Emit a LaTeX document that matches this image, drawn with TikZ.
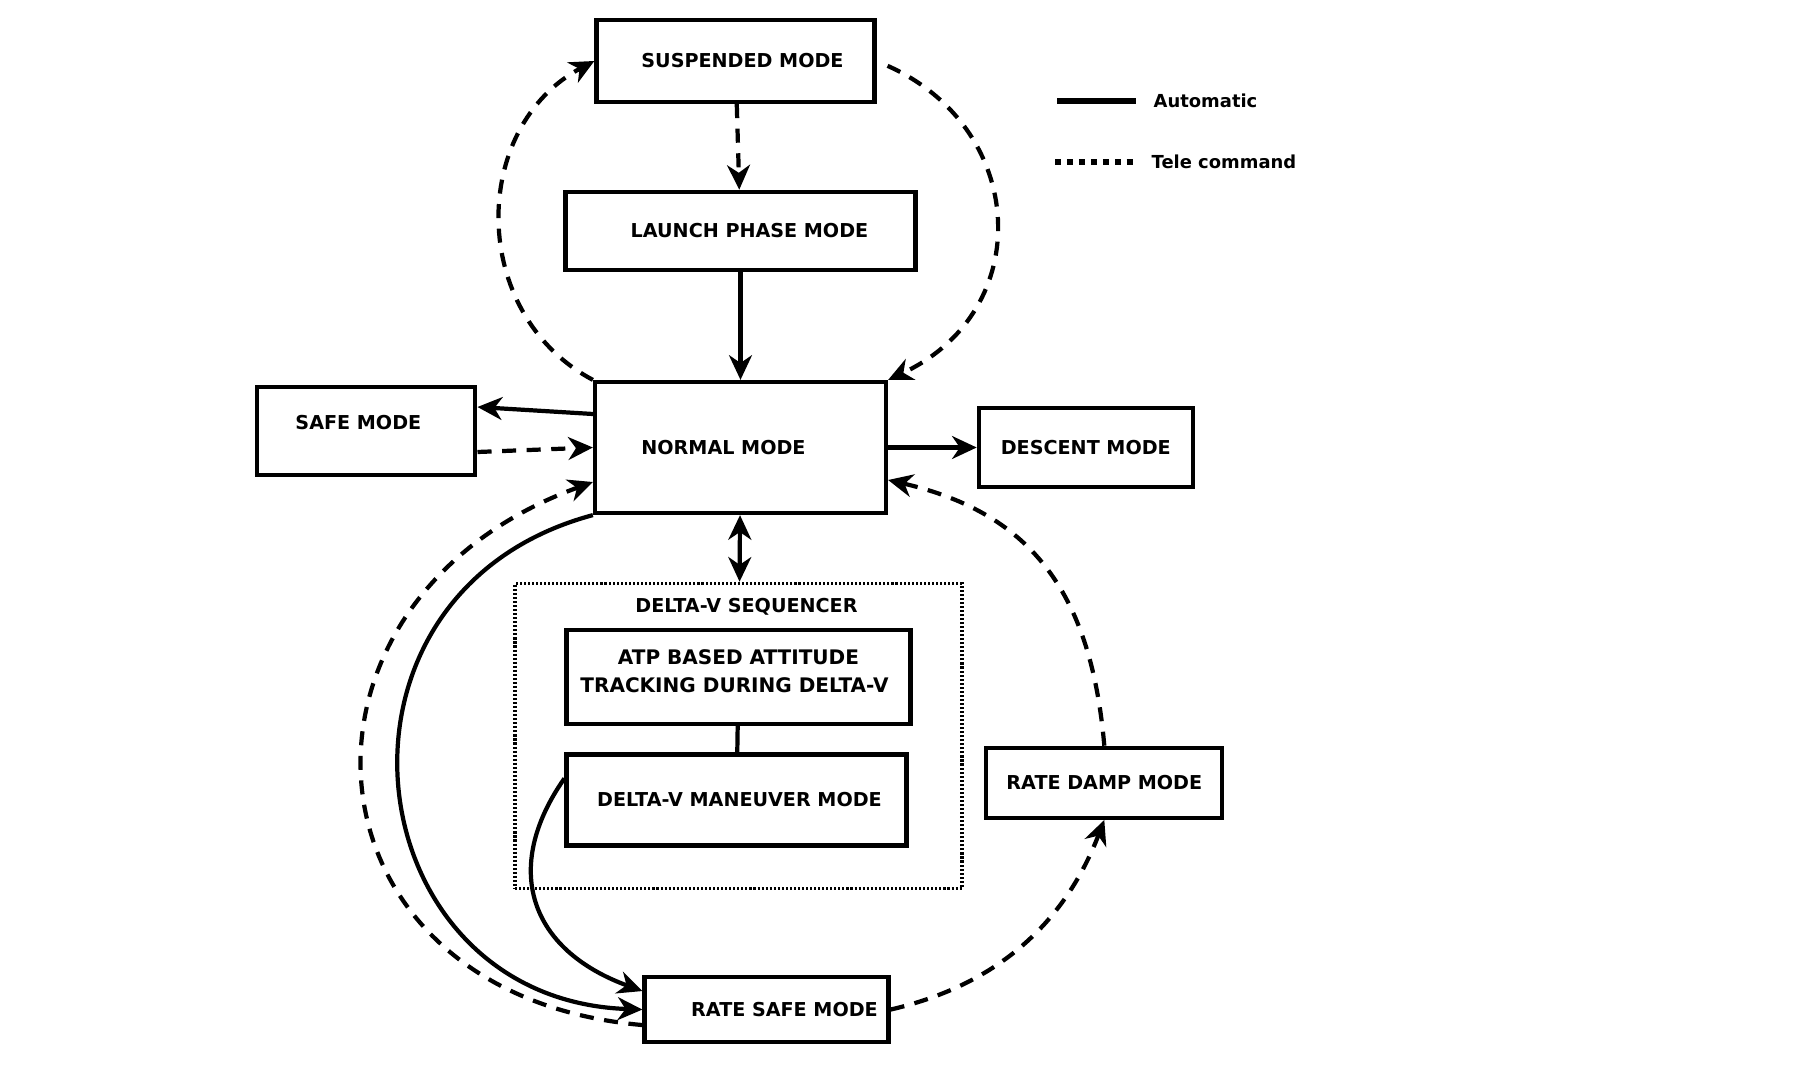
\documentclass[tikz,border=0pt]{standalone}
\usepackage{fontspec}
\setmainfont{DejaVu Sans}
\usetikzlibrary{positioning, arrows.meta}

\newcommand{\modefont}{\fontsize{5.45pt}{7.7pt}\selectfont\bfseries}
\newcommand{\legendfont}{\fontsize{5.1pt}{6.5pt}\selectfont\bfseries}

\begin{document}
\begin{tikzpicture}[
    node distance=0.9cm and 1.2cm,
    >={Stealth[length=7pt, width=6.5pt, inset=2.2pt]},
    box/.style={
        draw,
        line width=1.2pt,
        inner sep=0pt,
        font=\modefont
    },
    seqbox/.style={
        draw,
        line width=1pt,
        dash pattern=on 0.6pt off 0.55pt,
        inner sep=0pt,
        minimum width=4.47cm,
        minimum height=3.05cm
    },
    arrow/.style={
        ->,
        line width=1.2pt
    },
    tele/.style={
        arrow,
        dash pattern=on 4pt off 3pt
    },
    legend/.style={
        font=\legendfont,
        inner sep=0pt
    }
]

\useasboundingbox (0,0) rectangle (17.94,10.90);

\node[box, minimum width=2.91cm, minimum height=1.31cm] (normal) at (7.405,6.425)
    {NORMAL MODE\hspace*{0.34cm}};

\node[box, minimum width=3.50cm, minimum height=0.78cm, above=1.08cm of normal] (launch)
    {\hspace*{0.18cm}LAUNCH PHASE MODE};

\node[box, minimum width=2.78cm, minimum height=0.82cm, above=0.856cm of launch, xshift=-0.05cm] (susp)
    {\hspace*{0.14cm}SUSPENDED MODE};

\node[box, minimum width=2.18cm, minimum height=0.88cm, left=1.154cm of normal, yshift=0.165cm] (safe)
    {\raisebox{0.18cm}{SAFE MODE}\hspace*{0.16cm}};

\node[box, minimum width=2.14cm, minimum height=0.79cm, right=0.886cm of normal] (descent)
    {DESCENT MODE};

\node[seqbox, below=0.666cm of normal, xshift=-0.02cm] (seq) {};
\node[legend, font=\modefont, below=0.16cm of seq.north, xshift=0.08cm] (seqtitle)
    {DELTA-V SEQUENCER};

\node[box, minimum width=3.44cm, minimum height=0.94cm, below=0.46cm of seq.north] (atp)
    {\raisebox{0.28cm}{\parbox{3.3cm}{\centering\fontsize{5.7pt}{7.7pt}\selectfont
     ATP BASED ATTITUDE\\TRACKING DURING DELTA-V\hspace*{0.08cm}}}};

\node[box, minimum width=3.40cm, minimum height=0.91cm, below=0.264cm of atp, xshift=-0.02cm] (man)
    {\hspace*{0.06cm}DELTA-V MANEUVER MODE};

\node[box, minimum width=2.44cm, minimum height=0.65cm, below=1.274cm of man, xshift=0.30cm] (ratesafe)
    {\hspace*{0.36cm}RATE SAFE MODE};

\node[box, minimum width=2.36cm, minimum height=0.70cm, below=2.566cm of descent, xshift=0.185cm] (ratedamp)
    {RATE DAMP MODE};

% legend
\node[legend, anchor=west] (autotxt) at (11.53,9.89) {Automatic};
\node[legend, anchor=west] (teletxt) at (11.51,9.28) {Tele command};
\coordinate[left=0.17cm of autotxt] (autoend);
\coordinate[left=0.79cm of autoend] (autostart);
\coordinate[left=0.16cm of teletxt] (teleend);
\coordinate[left=0.80cm of teleend] (telestart);
\draw[line width=1.5pt] (autostart) -- (autoend);
\draw[line width=1.8pt, dash pattern=on 1.8pt off 1.6pt] (telestart) -- (teleend);

% top part
\draw[tele] (susp) -- (launch);
\draw[arrow] (launch) -- (normal);
\draw[tele] (normal.north west) to[out=152, in=208, looseness=1.13] (susp.west);
\draw[tele, shorten <=0.12cm] (susp.east) to[out=-24, in=25, looseness=1.32] (normal.north east);

% side modes
\draw[arrow] ([yshift=0.335cm]normal.west) -- ([yshift=0.24cm]safe.east);
\draw[tele] ([yshift=-0.21cm]safe.east) -- (normal.west);
\draw[arrow] (normal) -- (descent);

% sequencer
\draw[<->, line width=1.2pt] (normal) -- (seq);
\draw[line width=1.2pt] (atp) -- (man);

% rate modes
\draw[arrow] ([yshift=0.215cm]man.west) .. controls +(235:1.1) and +(160:1.2) .. ([yshift=0.185cm]ratesafe.west);
\draw[arrow] (normal.south west) .. controls +(195:3.0) and +(178:2.9) .. (ratesafe.west);
\draw[tele] ([yshift=-0.155cm]ratesafe.west) .. controls +(175:3.5) and +(200:3.5) .. ([yshift=-0.345cm]normal.west);
\draw[tele] (ratesafe.east) .. controls +(13:1.1) and +(249:1.1) .. (ratedamp.south);
\draw[tele] (ratedamp.north) .. controls +(95:1.5) and +(-13:1.5) .. ([yshift=-0.325cm]normal.east);

\end{tikzpicture}
\end{document}
